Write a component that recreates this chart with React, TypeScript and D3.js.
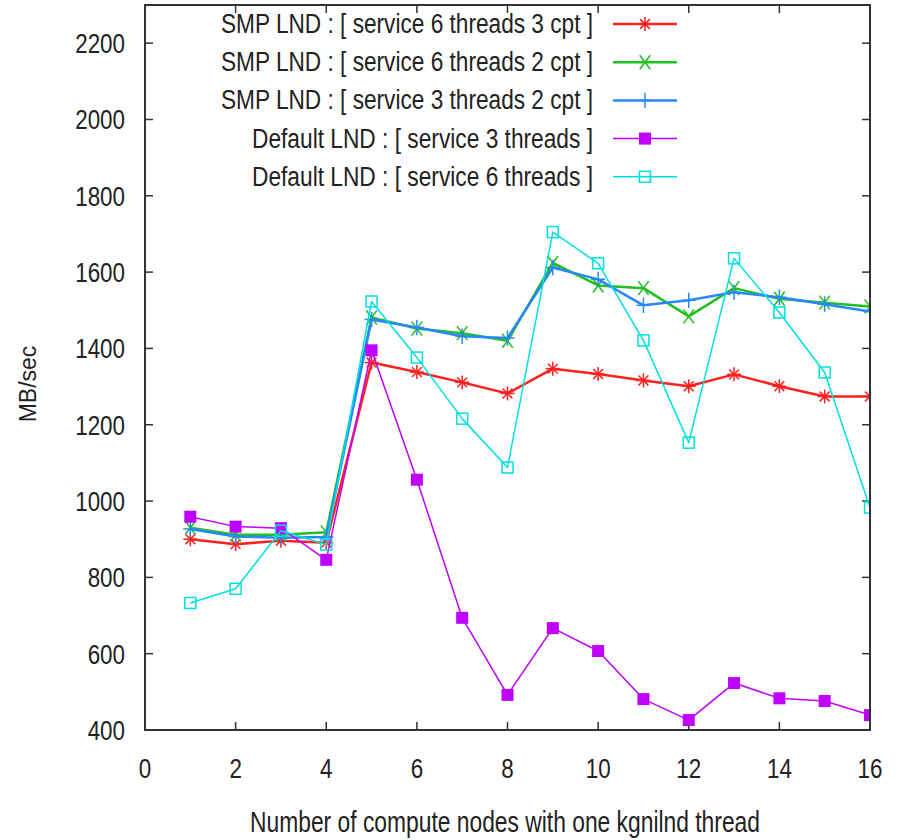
import React, { useEffect, useRef } from 'react';
import * as d3 from 'd3';

const nodes = [1, 2, 3, 4, 5, 6, 7, 8, 9, 10, 11, 12, 13, 14, 15, 16];

const smp6t3c = [900, 887, 896, 891, 1363, 1338, 1311, 1282, 1347, 1333, 1316, 1301, 1332, 1301, 1274, 1274];
const smp6t2c = [930, 912, 912, 918, 1481, 1452, 1440, 1420, 1624, 1565, 1558, 1484, 1558, 1530, 1520, 1510];
const smp3t2c = [927, 907, 904, 906, 1476, 1455, 1432, 1427, 1612, 1581, 1513, 1526, 1547, 1534, 1516, 1497];
const def3t = [959, 933, 929, 846, 1395, 1056, 694, 492, 667, 607, 481, 426, 523, 483, 476, 439];
const def6t = [733, 770, 922, 886, 1523, 1376, 1216, 1088, 1705, 1623, 1421, 1153, 1636, 1494, 1337, 983];

const yTicks = [400, 600, 800, 1000, 1200, 1400, 1600, 1800, 2000, 2200];
const xTicks = [0, 2, 4, 6, 8, 10, 12, 14, 16];

const series = [
  { label: 'SMP LND : [ service 6 threads 3 cpt ]', values: smp6t3c, color: '#ff2020', marker: 'star', width: 2.5, len: 372 },
  { label: 'SMP LND : [ service 6 threads 2 cpt ]', values: smp6t2c, color: '#20c020', marker: 'cross', width: 2.5, len: 372 },
  { label: 'SMP LND : [ service 3 threads 2 cpt ]', values: smp3t2c, color: '#2888ff', marker: 'plus', width: 2.5, len: 372 },
  { label: 'Default LND : [ service 3 threads ]', values: def3t, color: '#c000ff', marker: 'fsquare', width: 1.5, len: 341 },
  { label: 'Default LND : [ service 6 threads ]', values: def6t, color: '#00e0e0', marker: 'osquare', width: 1.5, len: 341 },
];

const sans = '"Liberation Sans", Arial, sans-serif';

function drawMarker(g: any, kind: string, cx: number, cy: number, color: string) {
  const s = 7;
  const line = (x1: number, y1: number, x2: number, y2: number) =>
    g.append('line').attr('x1', cx + x1).attr('y1', cy + y1).attr('x2', cx + x2).attr('y2', cy + y2)
      .attr('stroke', color).attr('stroke-width', 1.5);
  if (kind === 'star') {
    line(-s, 0, s, 0); line(0, -s, 0, s); line(-s * 0.7, -s * 0.7, s * 0.7, s * 0.7); line(-s * 0.7, s * 0.7, s * 0.7, -s * 0.7);
  } else if (kind === 'cross') {
    line(-s * 0.75, -s, s * 0.75, s); line(-s * 0.75, s, s * 0.75, -s);
  } else if (kind === 'plus') {
    line(-s, 0, s, 0); line(0, -s * 1.1, 0, s * 1.1);
  } else if (kind === 'fsquare') {
    g.append('rect').attr('x', cx - 6).attr('y', cy - 6).attr('width', 12).attr('height', 12).attr('fill', color);
  } else {
    g.append('rect').attr('x', cx - 5.5).attr('y', cy - 5.5).attr('width', 11).attr('height', 11)
      .attr('fill', 'none').attr('stroke', color).attr('stroke-width', 1.5);
  }
}

export default function App() {
  const ref = useRef<SVGSVGElement>(null);

  useEffect(() => {
    const svg = d3.select(ref.current);
    svg.selectAll('*').remove();

    const x = d3.scaleLinear().domain([0, 16]).range([145, 870]);
    const y = d3.scaleLinear().domain([400, 2300]).range([730, 5]);
    const frame = '#333';

    svg.append('clipPath').attr('id', 'plot').append('rect')
      .attr('x', 145).attr('y', 5).attr('width', 725).attr('height', 725);

    // ticks, inward, mirrored
    yTicks.forEach(t => {
      svg.append('line').attr('x1', 145).attr('x2', 153).attr('y1', y(t)).attr('y2', y(t)).attr('stroke', frame).attr('stroke-width', 1.5);
      svg.append('line').attr('x1', 862).attr('x2', 870).attr('y1', y(t)).attr('y2', y(t)).attr('stroke', frame).attr('stroke-width', 1.5);
      svg.append('text').attr('transform', `translate(125,${y(t) + 10}) scale(0.8,1)`).attr('text-anchor', 'end')
        .attr('font-family', sans).attr('font-size', 28).attr('fill', '#222').text(t);
    });
    xTicks.forEach(t => {
      svg.append('line').attr('x1', x(t)).attr('x2', x(t)).attr('y1', 730).attr('y2', 722).attr('stroke', frame).attr('stroke-width', 1.5);
      svg.append('line').attr('x1', x(t)).attr('x2', x(t)).attr('y1', 5).attr('y2', 13).attr('stroke', frame).attr('stroke-width', 1.5);
      svg.append('text').attr('transform', `translate(${x(t)},778) scale(0.8,1)`).attr('text-anchor', 'middle')
        .attr('font-family', sans).attr('font-size', 28).attr('fill', '#222').text(t);
    });

    // legend
    series.forEach((s, i) => {
      const ly = 24 + i * 38.2;
      svg.append('text').attr('x', 593 - s.len).attr('y', ly + 9)
        .attr('font-family', sans).attr('font-size', 27).attr('fill', '#222')
        .attr('textLength', s.len).attr('lengthAdjust', 'spacingAndGlyphs').text(s.label);
      svg.append('line').attr('x1', 613).attr('x2', 677).attr('y1', ly).attr('y2', ly)
        .attr('stroke', s.color).attr('stroke-width', s.width);
      drawMarker(svg.append('g'), s.marker, 645, ly, s.color);
    });

    const plot = svg.append('g').attr('clip-path', 'url(#plot)');
    const lineGen = d3.line<number>().x((d, i) => x(nodes[i])).y(d => y(d));
    series.forEach(s => {
      plot.append('path').attr('d', lineGen(s.values)).attr('fill', 'none')
        .attr('stroke', s.color).attr('stroke-width', s.width).attr('stroke-linejoin', 'round');
      const mg = plot.append('g');
      s.values.forEach((v, i) => drawMarker(mg, s.marker, x(nodes[i]), y(v), s.color));
    });

    svg.append('rect').attr('x', 145).attr('y', 5).attr('width', 725).attr('height', 725)
      .attr('fill', 'none').attr('stroke', frame).attr('stroke-width', 2);

    svg.append('text').attr('transform', 'translate(36,384) rotate(-90)').attr('text-anchor', 'middle')
      .attr('font-family', sans).attr('font-size', 23).attr('fill', '#222').text('MB/sec');
    svg.append('text').attr('x', 250).attr('y', 832)
      .attr('font-family', sans).attr('font-size', 29).attr('fill', '#222')
      .attr('textLength', 510).attr('lengthAdjust', 'spacingAndGlyphs')
      .text('Number of compute nodes with one kgnilnd thread');
  }, []);

  return (
    <svg ref={ref} width={899} height={840} style={{ position: 'absolute', left: 0, top: 0, background: '#fff' }} />
  );
}
